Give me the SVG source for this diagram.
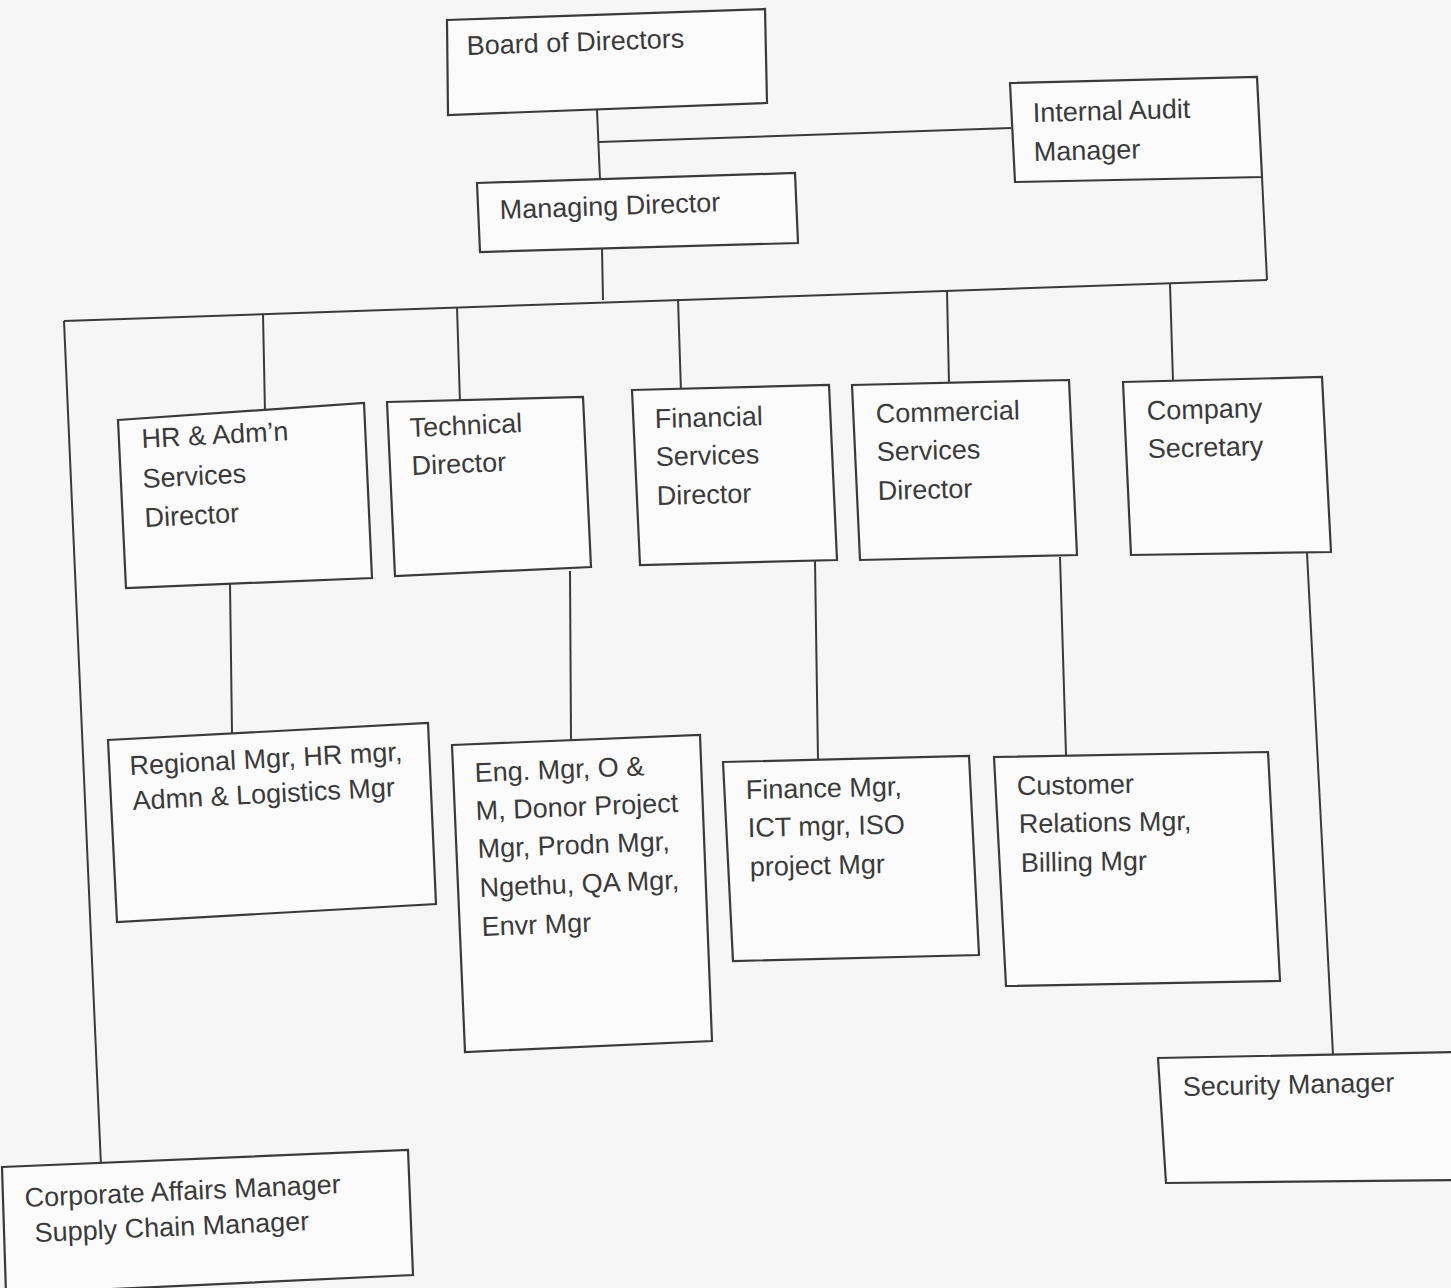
<svg xmlns="http://www.w3.org/2000/svg" width="1451" height="1288" viewBox="0 0 1451 1288">
<style>
.box{fill:#fbfbfb;stroke:#3a3a3a;stroke-width:2.2}
.conn{fill:none;stroke:#3a3a3a;stroke-width:2}
text{font-family:"Liberation Sans",Arial,sans-serif;font-size:27px;fill:#3a3a3a}
</style>
<rect x="0" y="0" width="1451" height="1288" fill="#f6f6f6"/>
<g id="connectors">
<polyline class="conn" points="597,110 600,180"/>
<polyline class="conn" points="599,142 1011,128"/>
<polyline class="conn" points="602,248 603,300"/>
<polyline class="conn" points="1262,177 1267,280"/>
<polyline class="conn" points="64,321 1267,280"/>
<polyline class="conn" points="263,314 265,412"/>
<polyline class="conn" points="457,307 460,403"/>
<polyline class="conn" points="678,299 681,392"/>
<polyline class="conn" points="947,290 949,385"/>
<polyline class="conn" points="1170,284 1173,382"/>
<polyline class="conn" points="64,321 101,1166"/>
<polyline class="conn" points="230,584 232,733"/>
<polyline class="conn" points="570,571 571,740"/>
<polyline class="conn" points="815,561 818,760"/>
<polyline class="conn" points="1060,557 1066,755"/>
<polyline class="conn" points="1307,553 1333,1055"/>
</g>
<g id="board">
<polygon class="box" points="447,20 765,9 767,103 448,115"/>
<text x="467" y="55" transform="rotate(-2 467 55)">Board of Directors</text>
</g>
<g id="audit">
<polygon class="box" points="1010,83 1257,77 1262,177 1015,182"/>
<text x="1033" y="122" transform="rotate(-1.5 1033 122)">Internal Audit</text>
<text x="1034" y="161" transform="rotate(-1.5 1034 161)">Manager</text>
</g>
<g id="md">
<polygon class="box" points="477,183 795,173 798,243 480,252"/>
<text x="500" y="219" transform="rotate(-2 500 219)">Managing Director</text>
</g>
<g id="hr">
<polygon class="box" points="118,420 364,403 372,578 126,588"/>
<text x="142" y="448" transform="rotate(-3 142 448)">HR &amp; Adm’n</text>
<text x="143" y="488" transform="rotate(-3 143 488)">Services</text>
<text x="145" y="527" transform="rotate(-3 145 527)">Director</text>
</g>
<g id="tech">
<polygon class="box" points="387,402 583,397 591,567 395,576"/>
<text x="410" y="437" transform="rotate(-2.5 410 437)">Technical</text>
<text x="412" y="475" transform="rotate(-2.5 412 475)">Director</text>
</g>
<g id="fin">
<polygon class="box" points="632,390 829,385 837,560 640,565"/>
<text x="655" y="428" transform="rotate(-1.5 655 428)">Financial</text>
<text x="656" y="466" transform="rotate(-1.5 656 466)">Services</text>
<text x="657" y="505" transform="rotate(-1.5 657 505)">Director</text>
</g>
<g id="comm">
<polygon class="box" points="852,385 1069,380 1077,555 860,560"/>
<text x="876" y="423" transform="rotate(-1.5 876 423)">Commercial</text>
<text x="877" y="461" transform="rotate(-1.5 877 461)">Services</text>
<text x="878" y="500" transform="rotate(-1.5 878 500)">Director</text>
</g>
<g id="secretary">
<polygon class="box" points="1123,382 1322,377 1331,552 1131,555"/>
<text x="1147" y="420" transform="rotate(-1.5 1147 420)">Company</text>
<text x="1148" y="458" transform="rotate(-1.5 1148 458)">Secretary</text>
</g>
<g id="regional">
<polygon class="box" points="108,740 428,723 436,904 117,922"/>
<text x="130" y="775" transform="rotate(-3 130 775)">Regional Mgr, HR mgr,</text>
<text x="133" y="810" transform="rotate(-3 133 810)">Admn &amp; Logistics Mgr</text>
</g>
<g id="eng">
<polygon class="box" points="452,745 700,735 712,1041 465,1052"/>
<text x="475" y="782" transform="rotate(-2.3 475 782)">Eng. Mgr, O &amp;</text>
<text x="476" y="820" transform="rotate(-2.3 476 820)">M, Donor Project</text>
<text x="478" y="858" transform="rotate(-2.3 478 858)">Mgr, Prodn Mgr,</text>
<text x="480" y="897" transform="rotate(-2.3 480 897)">Ngethu, QA Mgr,</text>
<text x="482" y="936" transform="rotate(-2.3 482 936)">Envr Mgr</text>
</g>
<g id="finmgr">
<polygon class="box" points="723,762 969,756 979,955 733,961"/>
<text x="746" y="799" transform="rotate(-1.3 746 799)">Finance Mgr,</text>
<text x="748" y="837" transform="rotate(-1.3 748 837)">ICT mgr, ISO</text>
<text x="750" y="876" transform="rotate(-1.3 750 876)">project Mgr</text>
</g>
<g id="customer">
<polygon class="box" points="994,757 1268,752 1280,981 1006,986"/>
<text x="1017" y="795" transform="rotate(-1 1017 795)">Customer</text>
<text x="1019" y="833" transform="rotate(-1 1019 833)">Relations Mgr,</text>
<text x="1021" y="872" transform="rotate(-1 1021 872)">Billing Mgr</text>
</g>
<g id="security">
<polygon class="box" points="1158,1058 1460,1052 1462,1180 1166,1183"/>
<text x="1183" y="1096" transform="rotate(-1.2 1183 1096)">Security Manager</text>
</g>
<g id="corporate">
<polygon class="box" points="2,1167 408,1150 413,1275 6,1294"/>
<text x="25" y="1207" transform="rotate(-2.5 25 1207)">Corporate Affairs Manager</text>
<text x="35" y="1242" transform="rotate(-2.5 35 1242)">Supply Chain Manager</text>
</g>
</svg>
